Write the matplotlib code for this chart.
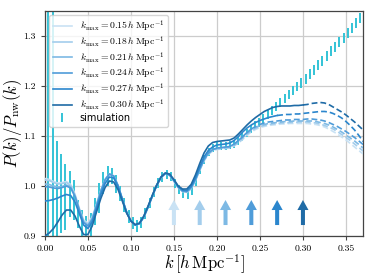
import matplotlib
matplotlib.use("Agg")
import matplotlib.pyplot as plt

plt.rcParams['font.family'] = 'serif'
plt.rcParams['font.serif'] = ['cmr10', 'DejaVu Serif']
plt.rcParams['mathtext.fontset'] = 'cm'
plt.rcParams['axes.formatter.use_mathtext'] = True

# ── simulation measurement ──
k_sim = [0.0042, 0.0091, 0.0140, 0.0189, 0.0238, 0.0287, 0.0336, 0.0385, 0.0434, 0.0483,
         0.0532, 0.0581, 0.0630, 0.0679, 0.0728, 0.0777, 0.0826, 0.0875, 0.0924, 0.0973,
         0.1022, 0.1071, 0.1120, 0.1169, 0.1218, 0.1267, 0.1316, 0.1365, 0.1414, 0.1463,
         0.1512, 0.1561, 0.1610, 0.1659, 0.1708, 0.1757, 0.1806, 0.1855, 0.1904, 0.1953,
         0.2002, 0.2051, 0.2100, 0.2149, 0.2198, 0.2247, 0.2296, 0.2345, 0.2394, 0.2443,
         0.2492, 0.2541, 0.2590, 0.2639, 0.2688, 0.2737, 0.2786, 0.2835, 0.2884, 0.2933,
         0.2982, 0.3031, 0.3080, 0.3129, 0.3178, 0.3227, 0.3276, 0.3325, 0.3374, 0.3423,
         0.3472, 0.3521, 0.3570, 0.3619, 0.3668]
ratio_sim = [1.000, 1.000, 0.995, 0.985, 0.978, 0.985, 0.972, 0.944, 0.926, 0.915,
             0.923, 0.949, 0.976, 1.006, 1.020, 1.021, 1.004, 0.985, 0.962, 0.940,
             0.926, 0.921, 0.928, 0.945, 0.966, 0.988, 1.006, 1.019, 1.024, 1.019,
             1.006, 0.994, 0.986, 0.983, 0.990, 1.008, 1.032, 1.053, 1.068, 1.076,
             1.079, 1.080, 1.080, 1.081, 1.084, 1.090, 1.098, 1.106, 1.113, 1.120,
             1.127, 1.134, 1.142, 1.150, 1.158, 1.166, 1.174, 1.182, 1.190, 1.198,
             1.206, 1.214, 1.223, 1.232, 1.241, 1.250, 1.260, 1.269, 1.278, 1.287,
             1.296, 1.305, 1.315, 1.325, 1.336]
err_sim = [0.600, 0.450, 0.095, 0.078, 0.066, 0.046, 0.040, 0.028, 0.026, 0.025,
           0.023, 0.027, 0.030, 0.022, 0.020, 0.016, 0.018, 0.015, 0.014, 0.013,
           0.012, 0.012, 0.011, 0.011, 0.010, 0.010, 0.010, 0.010, 0.009, 0.009,
           0.009, 0.009, 0.009, 0.009, 0.008, 0.008, 0.008, 0.008, 0.008, 0.008,
           0.008, 0.008, 0.008, 0.008, 0.008, 0.008, 0.008, 0.008, 0.008, 0.009,
           0.009, 0.009, 0.009, 0.009, 0.009, 0.009, 0.009, 0.009, 0.009, 0.009,
           0.010, 0.010, 0.010, 0.010, 0.010, 0.010, 0.010, 0.010, 0.010, 0.010,
           0.010, 0.010, 0.010, 0.010, 0.010]

# ── model predictions, one per k_max ──
k_model = [0.000, 0.005, 0.010, 0.015, 0.020, 0.025, 0.030, 0.035, 0.040, 0.045,
           0.050, 0.055, 0.060, 0.065, 0.070, 0.075, 0.080, 0.085, 0.090, 0.095,
           0.100, 0.105, 0.110, 0.115, 0.120, 0.125, 0.130, 0.135, 0.140, 0.145,
           0.150, 0.155, 0.160, 0.165, 0.170, 0.175, 0.180, 0.185, 0.190, 0.195,
           0.200, 0.205, 0.210, 0.215, 0.220, 0.225, 0.230, 0.235, 0.240, 0.245,
           0.250, 0.255, 0.260, 0.265, 0.270, 0.275, 0.280, 0.285, 0.290, 0.295,
           0.300, 0.305, 0.310, 0.315, 0.320, 0.325, 0.330, 0.335, 0.340, 0.345,
           0.350, 0.355, 0.360, 0.365, 0.370]

m15 = [1.015, 1.013, 1.009, 1.006, 1.007, 1.009, 1.003, 0.984, 0.956, 0.932,
       0.926, 0.938, 0.963, 0.991, 1.013, 1.024, 1.020, 1.001, 0.974, 0.948,
       0.930, 0.922, 0.925, 0.938, 0.958, 0.980, 1.001, 1.017, 1.025, 1.022,
       1.010, 0.997, 0.989, 0.987, 0.994, 1.010, 1.031, 1.050, 1.063, 1.070,
       1.073, 1.074, 1.075, 1.076, 1.080, 1.086, 1.093, 1.101, 1.108, 1.113,
       1.117, 1.119, 1.121, 1.122, 1.123, 1.124, 1.124, 1.125, 1.125, 1.125,
       1.125, 1.125, 1.124, 1.123, 1.121, 1.118, 1.114, 1.109, 1.104, 1.098,
       1.092, 1.085, 1.078, 1.071, 1.064]
m18 = [1.012, 1.011, 1.007, 1.004, 1.005, 1.007, 1.001, 0.982, 0.954, 0.930,
       0.924, 0.937, 0.963, 0.991, 1.013, 1.024, 1.020, 1.001, 0.974, 0.948,
       0.930, 0.922, 0.925, 0.938, 0.958, 0.980, 1.001, 1.017, 1.025, 1.022,
       1.010, 0.997, 0.989, 0.988, 0.995, 1.011, 1.032, 1.051, 1.064, 1.071,
       1.074, 1.075, 1.076, 1.077, 1.081, 1.087, 1.095, 1.103, 1.110, 1.115,
       1.119, 1.121, 1.123, 1.124, 1.125, 1.126, 1.126, 1.127, 1.127, 1.128,
       1.128, 1.128, 1.127, 1.126, 1.124, 1.121, 1.118, 1.114, 1.109, 1.103,
       1.097, 1.091, 1.084, 1.077, 1.070]
m21 = [1.004, 1.003, 1.000, 0.998, 0.999, 1.002, 0.998, 0.980, 0.953, 0.928,
       0.921, 0.934, 0.961, 0.990, 1.013, 1.024, 1.020, 1.001, 0.974, 0.948,
       0.930, 0.922, 0.925, 0.938, 0.958, 0.980, 1.001, 1.017, 1.025, 1.022,
       1.010, 0.997, 0.990, 0.988, 0.996, 1.012, 1.033, 1.052, 1.065, 1.072,
       1.075, 1.076, 1.077, 1.078, 1.082, 1.089, 1.097, 1.105, 1.112, 1.117,
       1.121, 1.123, 1.125, 1.126, 1.127, 1.128, 1.129, 1.129, 1.130, 1.130,
       1.130, 1.130, 1.130, 1.129, 1.127, 1.125, 1.122, 1.118, 1.113, 1.108,
       1.102, 1.096, 1.090, 1.083, 1.076]
m24 = [0.999, 0.998, 0.996, 0.995, 0.997, 1.000, 0.996, 0.979, 0.952, 0.927,
       0.920, 0.933, 0.960, 0.989, 1.012, 1.024, 1.020, 1.001, 0.974, 0.948,
       0.930, 0.922, 0.925, 0.938, 0.958, 0.980, 1.001, 1.017, 1.025, 1.022,
       1.011, 0.998, 0.990, 0.989, 0.997, 1.013, 1.034, 1.053, 1.066, 1.073,
       1.076, 1.077, 1.078, 1.079, 1.084, 1.091, 1.099, 1.107, 1.114, 1.119,
       1.123, 1.126, 1.128, 1.129, 1.130, 1.131, 1.132, 1.132, 1.133, 1.133,
       1.133, 1.134, 1.134, 1.133, 1.132, 1.130, 1.127, 1.123, 1.119, 1.114,
       1.109, 1.103, 1.097, 1.090, 1.083]
m27 = [0.970, 0.971, 0.973, 0.976, 0.980, 0.983, 0.981, 0.968, 0.945, 0.922,
       0.915, 0.928, 0.955, 0.983, 1.005, 1.018, 1.016, 0.999, 0.973, 0.947,
       0.930, 0.922, 0.925, 0.939, 0.959, 0.981, 1.002, 1.018, 1.026, 1.023,
       1.012, 0.999, 0.992, 0.991, 0.999, 1.016, 1.038, 1.058, 1.071, 1.078,
       1.082, 1.083, 1.084, 1.086, 1.091, 1.099, 1.108, 1.116, 1.122, 1.127,
       1.131, 1.134, 1.137, 1.139, 1.141, 1.142, 1.143, 1.143, 1.144, 1.144,
       1.145, 1.146, 1.147, 1.148, 1.149, 1.149, 1.148, 1.145, 1.141, 1.136,
       1.129, 1.121, 1.112, 1.101, 1.089]
m30 = [0.900, 0.906, 0.915, 0.928, 0.942, 0.952, 0.952, 0.940, 0.920, 0.903,
       0.903, 0.920, 0.948, 0.975, 0.997, 1.010, 1.008, 0.993, 0.970, 0.946,
       0.930, 0.923, 0.926, 0.940, 0.960, 0.982, 1.002, 1.018, 1.026, 1.024,
       1.013, 1.000, 0.994, 0.994, 1.003, 1.022, 1.045, 1.066, 1.080, 1.087,
       1.089, 1.090, 1.091, 1.092, 1.096, 1.104, 1.113, 1.122, 1.130, 1.137,
       1.143, 1.149, 1.153, 1.157, 1.159, 1.160, 1.160, 1.160, 1.161, 1.161,
       1.162, 1.163, 1.165, 1.166, 1.167, 1.166, 1.163, 1.158, 1.153, 1.148,
       1.142, 1.135, 1.128, 1.120, 1.112]

kmax_list = [0.15, 0.18, 0.21, 0.24, 0.27, 0.30]
models = [m15, m18, m21, m24, m27, m30]
colors = ['#c9e2f4', '#a3cdec', '#7db9e4', '#4f9cd9', '#2b86cd', '#1f6ba6']
sim_color = '#33c3d6'

fig = plt.figure(figsize=(3.74, 2.8), dpi=100)
ax = fig.add_axes([0.12, 0.157, 0.851, 0.804])

eb = ax.errorbar(k_sim, ratio_sim, yerr=err_sim, fmt='none', ecolor=sim_color,
                 elinewidth=1.4, capsize=0, zorder=2, label='simulation')

handles = []
for kmax, vals, c in zip(kmax_list, models, colors):
    k_in = [k for k in k_model if k <= kmax + 1e-9]
    v_in = vals[:len(k_in)]
    k_out = k_model[len(k_in) - 1:]
    v_out = vals[len(k_in) - 1:]
    h, = ax.plot(k_in, v_in, color=c, lw=1.2, zorder=3,
                 label=r'$k_{\rm max} = %.2f\,h\,{\rm Mpc}^{-1}$' % kmax)
    ax.plot(k_out, v_out, color=c, lw=1.2, ls='--', dashes=(3.5, 1.8), zorder=3)
    handles.append(h)
    # arrow marking k_max
    ax.annotate('', xy=(kmax, 0.972), xytext=(kmax, 0.922),
                arrowprops=dict(arrowstyle='simple,head_length=0.72,head_width=0.8,tail_width=0.29',
                                color=c, lw=0, shrinkA=0, shrinkB=0, mutation_scale=10),
                zorder=4)

leg = ax.legend(handles + [eb],
                [h.get_label() for h in handles] + ['simulation'],
                loc='upper left', fontsize=7, handlelength=2.0,
                labelspacing=0.02, borderaxespad=0.4, framealpha=0.8)
leg.get_texts()[-1].set_fontfamily('DejaVu Sans')

ax.set_xlim(0, 0.37)
ax.set_ylim(0.9, 1.35)
ax.set_xticks([0.0, 0.05, 0.10, 0.15, 0.20, 0.25, 0.30, 0.35])
ax.set_xticklabels(['0.00', '0.05', '0.10', '0.15', '0.20', '0.25', '0.30', '0.35'])
ax.set_yticks([0.9, 1.0, 1.1, 1.2, 1.3])
ax.set_yticklabels(['0.9', '1.0', '1.1', '1.2', '1.3'])
ax.tick_params(labelsize=7, length=3, width=0.8, color='#444444')
ax.grid(True, color='#cccccc', lw=0.9)
ax.set_axisbelow(True)
for sp in ax.spines.values():
    sp.set_color('#444444')
    sp.set_linewidth(0.9)

ax.set_xlabel(r'$k\,[h\,{\rm Mpc}^{-1}]$', fontsize=12, labelpad=-1)
ax.set_ylabel(r'$P(k)/P_{\rm nw}(k)$', fontsize=12)
ax.yaxis.set_label_coords(-0.066, 0.5)

fig.savefig('out.png', dpi=100)
